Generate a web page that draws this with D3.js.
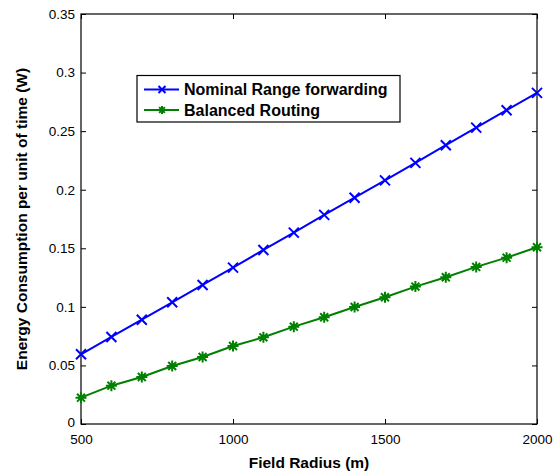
<!DOCTYPE html>
<html>
<head>
<meta charset="utf-8">
<script src="https://cdn.jsdelivr.net/npm/d3@7"></script>
<style>
body { margin: 0; background: #fff; }
text { font-family: "Liberation Sans", Arial, sans-serif; }
</style>
</head>
<body>
<script>
var w = 558;
var h = 475;

var radius = [500,600,700,800,900,1000,1100,1200,1300,1400,1500,1600,1700,1800,1900,2000];
var nominal = [0.0595,0.0743,0.0890,0.1039,0.1187,0.1335,0.1486,0.1634,0.1785,0.1932,0.2080,0.2229,0.2380,0.2530,0.2679,0.2827];
var balanced = [0.0225,0.0327,0.0401,0.0495,0.0572,0.0666,0.0740,0.0831,0.0911,0.0999,0.1082,0.1173,0.1253,0.1341,0.1420,0.1509];
var xTicks = [500,1000,1500,2000];
var yTicks = [0,0.05,0.1,0.15,0.2,0.25,0.3,0.35];
var seriesNames = ["Nominal Range forwarding","Balanced Routing"];

var margin = {left: 81, right: 21, top: 14, bottom: 51};

var svg = d3.select("body").append("svg")
            .attr("width", w)
            .attr("height", h);

var x = d3.scaleLinear().domain([500,2000]).range([margin.left, w - margin.right]);
var y = d3.scaleLinear().domain([0,0.35]).range([h - margin.bottom, margin.top]);

// axes box
svg.append("rect")
   .attr("x", margin.left)
   .attr("y", margin.top)
   .attr("width", w - margin.right - margin.left)
   .attr("height", h - margin.bottom - margin.top)
   .attr("fill", "none")
   .attr("stroke", "black")
   .attr("stroke-width", 1.2);

var fmt = function(d){ return d === 0 ? "0" : String(d); };

// bottom / left axes with inward ticks
var gx = svg.append("g").attr("transform", "translate(0," + (h - margin.bottom) + ")")
   .call(d3.axisBottom(x).tickValues(xTicks).tickSizeInner(-5).tickSizeOuter(0).tickPadding(10).tickFormat(fmt));
var gy = svg.append("g").attr("transform", "translate(" + margin.left + ",0)")
   .call(d3.axisLeft(y).tickValues(yTicks).tickSizeInner(-5).tickSizeOuter(0).tickPadding(6).tickFormat(fmt));
// mirrored ticks top / right
var gx2 = svg.append("g").attr("transform", "translate(0," + margin.top + ")")
   .call(d3.axisTop(x).tickValues(xTicks).tickSizeInner(-5).tickSizeOuter(0).tickFormat(""));
var gy2 = svg.append("g").attr("transform", "translate(" + (w - margin.right) + ",0)")
   .call(d3.axisRight(y).tickValues(yTicks).tickSizeInner(-5).tickSizeOuter(0).tickFormat(""));

[gx, gy, gx2, gy2].forEach(function(g){
    g.select(".domain").remove();
    g.selectAll("text").attr("font-size", "13.5px").attr("fill", "black")
     .attr("font-family", "Liberation Sans, Arial, sans-serif");
    g.selectAll("line").attr("stroke", "black");
});
// lift the "0" label a touch so it clears "500"
gy.selectAll(".tick text").filter(function(d){ return d === 0; }).attr("dy", "0.2em");

// axis titles
svg.append("text")
   .attr("x", (margin.left + w - margin.right) / 2)
   .attr("y", 468)
   .attr("text-anchor", "middle")
   .attr("font-size", "15.5px")
   .attr("font-weight", "bold")
   .text("Field Radius (m)");

svg.append("text")
   .attr("transform", "translate(27," + ((margin.top + h - margin.bottom) / 2) + ") rotate(-90)")
   .attr("text-anchor", "middle")
   .attr("font-size", "15.5px")
   .attr("font-weight", "bold")
   .text("Energy Consumption per unit of time (W)");

var line = d3.line()
   .x(function(d){ return x(d[0]); })
   .y(function(d){ return y(d[1]); });

function drawX(g, cx, cy, s, color) {
    g.append("path")
     .attr("d", "M" + (cx - s) + "," + (cy - s) + "L" + (cx + s) + "," + (cy + s) +
                "M" + (cx - s) + "," + (cy + s) + "L" + (cx + s) + "," + (cy - s))
     .attr("stroke", color).attr("stroke-width", 2).attr("fill", "none");
}
function drawStar(g, cx, cy, s, color) {
    var d = "M" + (cx - s) + "," + cy + "L" + (cx + s) + "," + cy +
            "M" + cx + "," + (cy - s) + "L" + cx + "," + (cy + s);
    var t = s * 0.72;
    d += "M" + (cx - t) + "," + (cy - t) + "L" + (cx + t) + "," + (cy + t) +
         "M" + (cx - t) + "," + (cy + t) + "L" + (cx + t) + "," + (cy - t);
    g.append("path").attr("d", d)
     .attr("stroke", color).attr("stroke-width", 2).attr("fill", "none");
}

var series = [
    {name: seriesNames[0], values: nominal, color: "#0000ff", marker: drawX, size: 5},
    {name: seriesNames[1], values: balanced, color: "#008000", marker: drawStar, size: 5.5}
];

series.forEach(function(s){
    var pts = radius.map(function(r, i){ return [r, s.values[i]]; });
    svg.append("path")
       .datum(pts)
       .attr("d", line)
       .attr("fill", "none")
       .attr("stroke", s.color)
       .attr("stroke-width", 2);
    var mg = svg.append("g");
    pts.forEach(function(p){ s.marker(mg, x(p[0]), y(p[1]), s.size, s.color); });
});

// legend
var lg = svg.append("g");
lg.append("rect")
  .attr("x", 137).attr("y", 75.5)
  .attr("width", 263).attr("height", 46.5)
  .attr("fill", "white")
  .attr("stroke", "black")
  .attr("stroke-width", 1.2);

series.forEach(function(s, i){
    var ly = 89.5 + i * 20.5;
    lg.append("line")
      .attr("x1", 144).attr("x2", 179)
      .attr("y1", ly).attr("y2", ly)
      .attr("stroke", s.color).attr("stroke-width", 2);
    s.marker(lg, 162, ly, s.size - 1.5, s.color);
    lg.append("text")
      .attr("x", 184).attr("y", ly + 5.5)
      .attr("font-size", "16px")
      .attr("font-weight", "bold")
      .attr("fill", "black")
      .text(s.name);
});
</script>
</body>
</html>
